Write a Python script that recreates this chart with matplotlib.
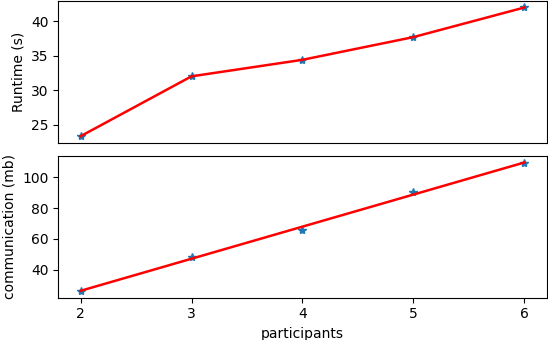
import numpy as np
import matplotlib
matplotlib.use('Agg')
import matplotlib.pyplot as plt

participants = [2, 3, 4, 5, 6]
runtime = [23.3, 32.0, 34.4, 37.7, 42.0]
communication = [25.9, 48.3, 66.0, 90.2, 109.4]

fig = plt.figure(figsize=(5.48, 3.40), dpi=100)
ax1 = fig.add_axes([0.1064, 0.5803, 0.8912, 0.4167])
ax2 = fig.add_axes([0.1064, 0.1244, 0.8912, 0.4168], sharex=ax1)

# tempo de execucao
ax1.plot(participants, runtime, '*')
ax1.plot(participants, runtime, 'r-', linewidth=1.8)
ax1.set_ylabel('Runtime (s)')
ax1.tick_params(axis='x', bottom=False, labelbottom=False)

# comunicacao com ajuste linear
coef = np.polyfit(participants, communication, 1)
fit = np.polyval(coef, participants)
ax2.plot(participants, communication, '*')
ax2.plot(participants, fit, 'r-', linewidth=1.8)
ax2.set_ylabel('communication (mb)')
ax2.set_xlabel('participants')
ax2.set_xticks(participants)

fig.savefig('out.png', dpi=100)
plt.close()
